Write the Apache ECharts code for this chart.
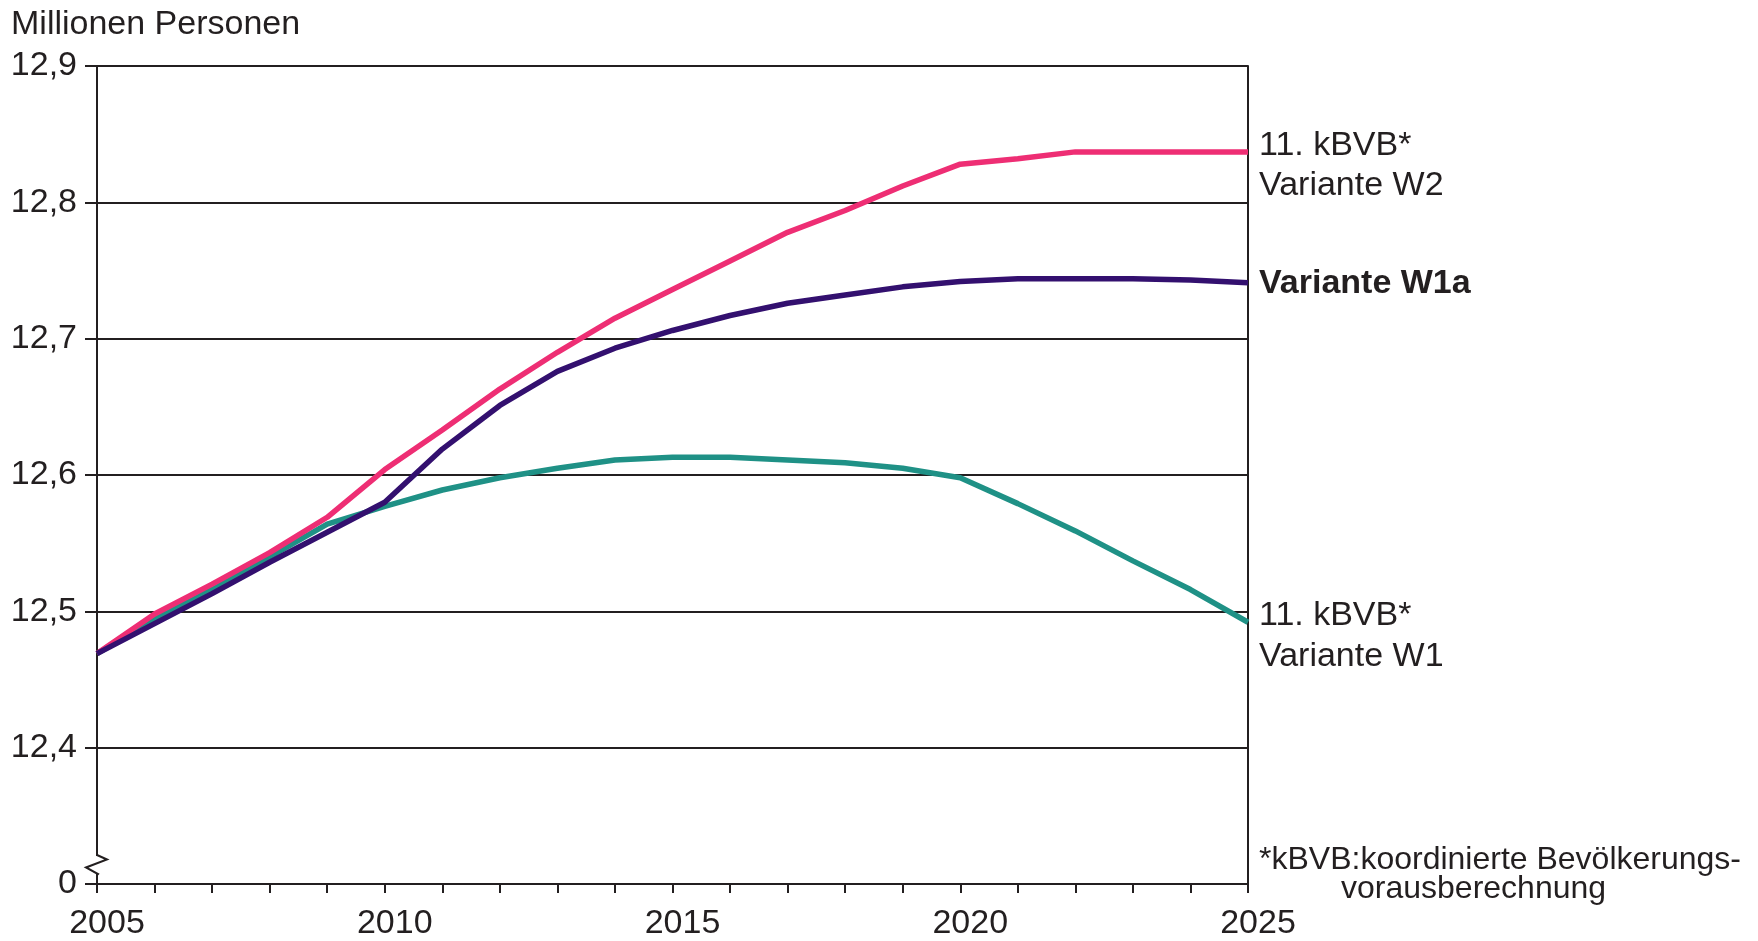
<!DOCTYPE html>
<html>
<head>
<meta charset="utf-8">
<script src="https://cdn.jsdelivr.net/npm/echarts@6/dist/echarts.min.js"></script>
<style>
html,body{margin:0;padding:0;background:#fff;}
#chart{width:1758px;height:941px;}
</style>
</head>
<body>
<div id="chart"></div>
<script>
// ---- data ----
const years = [2005,2006,2007,2008,2009,2010,2011,2012,2013,2014,2015,2016,2017,2018,2019,2020,2021,2022,2023,2024,2025];
const w2  = [12.469,12.498,12.520,12.543,12.569,12.604,12.633,12.663,12.690,12.715,12.736,12.757,12.778,12.794,12.812,12.828,12.832,12.837,12.837,12.837,12.837];
const w1a = [12.469,12.491,12.513,12.536,12.558,12.580,12.619,12.651,12.676,12.693,12.706,12.717,12.726,12.732,12.738,12.742,12.744,12.744,12.744,12.743,12.741];
const w1  = [12.469,12.494,12.516,12.540,12.564,12.577,12.589,12.598,12.605,12.611,12.613,12.613,12.611,12.609,12.605,12.598,12.579,12.559,12.537,12.516,12.492];
const yTicks = [12.3,12.4,12.5,12.6,12.7,12.8,12.9];
const yTickLabels = ['0','12,4','12,5','12,6','12,7','12,8','12,9'];
const xLabelYears = [2005,2010,2015,2020,2025];
const unitTitle = 'Millionen Personen';
const labelW2 = '11. kBVB*\nVariante W2';
const labelW1a = 'Variante W1a';
const labelW1 = '11. kBVB*\nVariante W1';
const footnote1 = '*kBVB:koordinierte Bevölkerungs-';
const footnote2 = 'vorausberechnung';

const INK = '#231F20';
const FONT = '"Liberation Sans", Arial, sans-serif';

const chart = echarts.init(document.getElementById('chart'), null, {renderer:'canvas'});

function pairs(arr){ return years.map((y,i)=>[y, arr[i]]); }

const option = {
  animation: false,
  backgroundColor: '#ffffff',
  grid: {left: 97, right: 510, top: 66, bottom: 57, containLabel: false},
  xAxis: {
    type: 'value', min: 2005, max: 2025, interval: 1,
    axisLine: {show: true, lineStyle: {color: INK, width: 2}},
    axisTick: {show: true, inside: false, length: 9, lineStyle: {color: INK, width: 2}},
    splitLine: {show: false},
    axisLabel: {
      show: true, margin: 40, verticalAlign: 'middle', padding: [0,0,0,20],
      fontSize: 34, fontFamily: FONT, color: INK,
      formatter: v => xLabelYears.indexOf(Math.round(v)) >= 0 ? String(Math.round(v)) : ''
    }
  },
  yAxis: [{
    type: 'value', min: 12.3, max: 12.9, interval: 0.1, position: 'left',
    axisLine: {show: true, onZero: false, lineStyle: {color: INK, width: 2}},
    axisTick: {show: true, inside: false, length: 12, lineStyle: {color: INK, width: 2}},
    splitLine: {show: true, lineStyle: {color: INK, width: 2}},
    axisLabel: {
      show: true, margin: 20, fontSize: 34, fontFamily: FONT, color: INK,
      formatter: v => {
        const i = yTicks.findIndex(t => Math.abs(t - v) < 1e-6);
        return i >= 0 ? yTickLabels[i] : '';
      }
    }
  },{
    type: 'value', min: 12.3, max: 12.9, interval: 0.1, position: 'right',
    axisLine: {show: true, onZero: false, lineStyle: {color: INK, width: 2}},
    axisTick: {show: false}, axisLabel: {show: false}, splitLine: {show: false}
  }],
  series: [
    {
      name: 'W1', type: 'line', data: pairs(w1), symbol: 'none', z: 3,
      lineStyle: {color: '#1F9186', width: 5.5},
      endLabel: {show: true, formatter: labelW1, distance: 11, offset: [0, 14],
        fontSize: 34, lineHeight: 41, fontFamily: FONT, color: INK, align: 'left'}
    },
    {
      name: 'W2', type: 'line', data: pairs(w2), symbol: 'none', z: 4,
      lineStyle: {color: '#EE2E74', width: 5.5},
      endLabel: {show: true, formatter: labelW2, distance: 11, offset: [0, 14],
        fontSize: 34, lineHeight: 40, fontFamily: FONT, color: INK, align: 'left'}
    },
    {
      name: 'W1a', type: 'line', data: pairs(w1a), symbol: 'none', z: 5,
      lineStyle: {color: '#33106F', width: 5.5},
      endLabel: {show: true, formatter: labelW1a, distance: 11, offset: [0, 1],
        fontSize: 34, fontWeight: 'bold', fontFamily: FONT, color: INK, align: 'left'}
    }
  ]
};
chart.setOption(option);

// annotations and axis break, positioned from the axes
const x0 = chart.convertToPixel({xAxisIndex: 0}, 2005);
const x1 = chart.convertToPixel({xAxisIndex: 0}, 2025);
const yBase = chart.convertToPixel({yAxisIndex: 0}, 12.3);
chart.setOption({
  graphic: [
    {type: 'text', left: 11, top: 8, style: {text: unitTitle, fontSize: 34, fontFamily: FONT, fill: INK}},
    {type: 'line', z: 100, shape: {x1: x0, y1: yBase - 28, x2: x0, y2: yBase - 10},
      style: {stroke: '#ffffff', lineWidth: 5}},
    {type: 'polyline', z: 101, shape: {points: [
      [x0, yBase - 29], [x0 + 10, yBase - 24.5], [x0 - 11, yBase - 16.5], [x0 + 1, yBase - 10], [x0, yBase - 9]
    ]}, style: {stroke: INK, lineWidth: 2, fill: null}},
    {type: 'text', x: x1 + 11, y: yBase - 24, style: {text: footnote1, fontSize: 32, fontFamily: FONT, fill: INK, verticalAlign: 'middle'}},
    {type: 'text', x: x1 + 93, y: yBase + 5, style: {text: footnote2, fontSize: 32, fontFamily: FONT, fill: INK, verticalAlign: 'middle'}}
  ]
});
</script>
</body>
</html>
